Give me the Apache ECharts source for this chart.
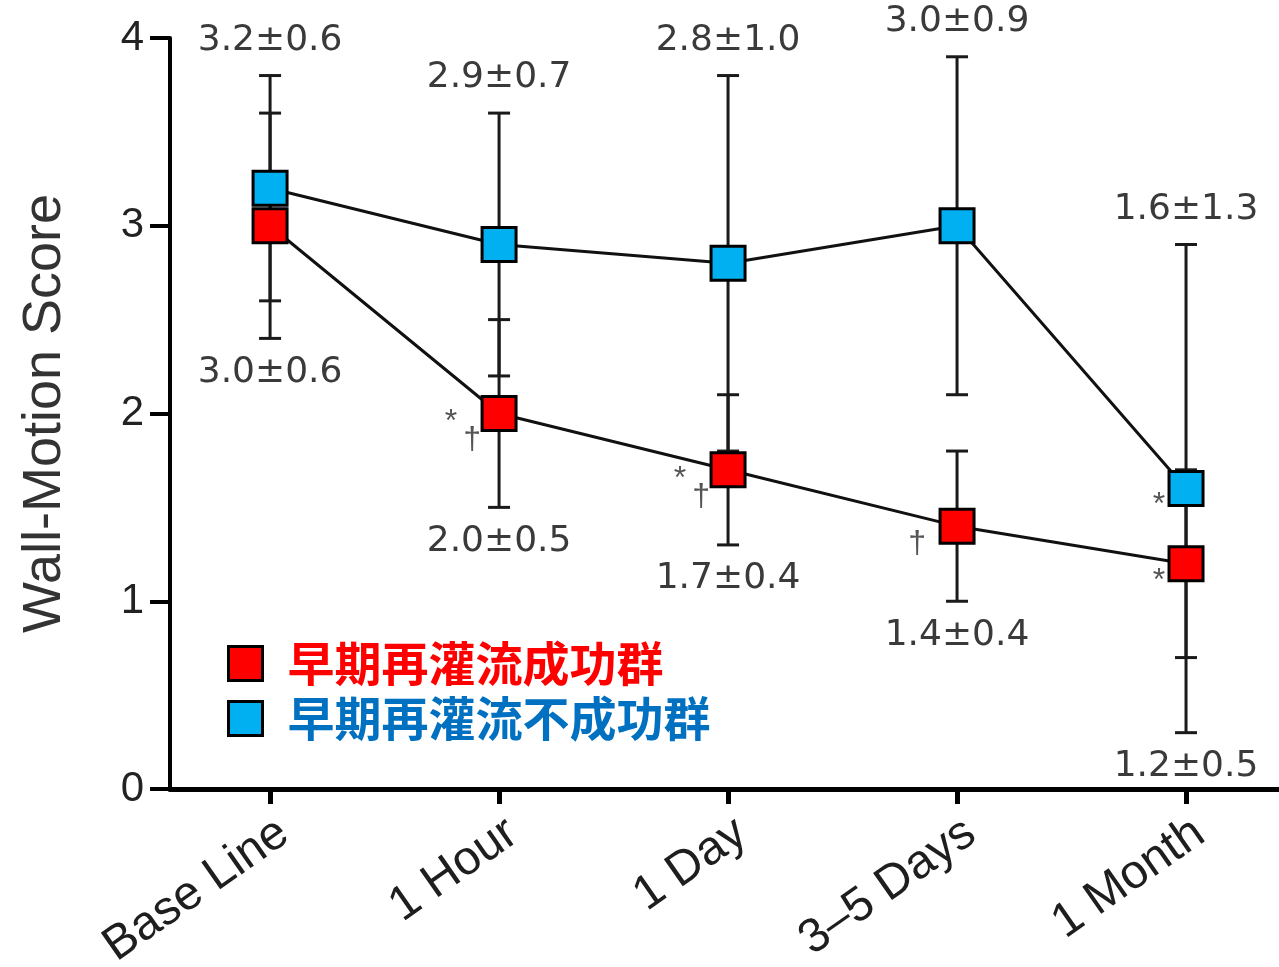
<!DOCTYPE html>
<html>
<head>
<meta charset="utf-8">
<script src="https://cdn.jsdelivr.net/npm/echarts@6/dist/echarts.min.js"></script>
<style>
  html, body { margin: 0; padding: 0; background: #fff; }
  #chart { width: 1279px; height: 967px; }
</style>
</head>
<body>
<div id="chart"></div>
<script>
// categories and values
var categories = ['Base Line', '1 Hour', '1 Day', '3–5 Days', '1 Month'];
var successMean = [3.0, 2.0, 1.7, 1.4, 1.2];
var successSD = [0.6, 0.5, 0.4, 0.4, 0.5];
var failMean = [3.2, 2.9, 2.8, 3.0, 1.6];
var failSD = [0.6, 0.7, 1.0, 0.9, 1.3];
var successMarks = ['', '*†', '*†', '†', '*'];
var failMarks = ['', '', '', '', '*'];
var xTicks = [0, 1, 2, 3, 4];
var yTicks = [0, 1, 2, 3, 4];

var successName = '早期再灌流成功群';
var failName = '早期再灌流不成功群';

var labelFont = '36px "DejaVu Sans", sans-serif';
var markFont = '32px "Liberation Sans", Arial, sans-serif';

function fmt(m, s) {
  return m.toFixed(1) + '±' + s.toFixed(1);
}

function markTexts(mark, cx, cy) {
  var out = [];
  var st = { font: markFont, fill: '#555', align: 'center', verticalAlign: 'middle' };
  if (mark === '*†') {
    out.push({ type: 'text', style: Object.assign({ text: '*', x: cx - 48, y: cy + 9 }, st) });
    out.push({ type: 'text', style: Object.assign({ text: '†', x: cx - 27, y: cy + 27 }, st) });
  } else if (mark === '*') {
    out.push({ type: 'text', style: Object.assign({ text: '*', x: cx - 27, y: cy + 17 }, st) });
  } else if (mark === '†') {
    out.push({ type: 'text', style: Object.assign({ text: '†', x: cx - 40, y: cy + 18 }, st) });
  }
  return out;
}

function renderErrors(params, api) {
  var i = api.value(0);
  var children = [];
  var sets = [
    { mean: failMean[i], sd: failSD[i] },
    { mean: successMean[i], sd: successSD[i] }
  ];
  var capHalf = 11;
  sets.forEach(function (s) {
    var top = api.coord([i, s.mean + s.sd]);
    var bot = api.coord([i, s.mean - s.sd]);
    var ls = { stroke: '#1a1a1a', lineWidth: 3 };
    children.push({ type: 'line', shape: { x1: top[0], y1: top[1], x2: bot[0], y2: bot[1] }, style: ls });
    children.push({ type: 'line', shape: { x1: top[0] - capHalf, y1: top[1], x2: top[0] + capHalf, y2: top[1] }, style: ls });
    children.push({ type: 'line', shape: { x1: bot[0] - capHalf, y1: bot[1], x2: bot[0] + capHalf, y2: bot[1] }, style: ls });
  });

  var upper = Math.max(failMean[i] + failSD[i], successMean[i] + successSD[i]);
  var lower = Math.min(failMean[i] - failSD[i], successMean[i] - successSD[i]);
  var pu = api.coord([i, upper]);
  var pl = api.coord([i, lower]);
  var tStyle = { font: labelFont, fill: '#3a3a3a', align: 'center', verticalAlign: 'middle' };
  children.push({ type: 'text', style: Object.assign({ text: fmt(failMean[i], failSD[i]), x: pu[0], y: pu[1] - 35 }, tStyle) });
  children.push({ type: 'text', style: Object.assign({ text: fmt(successMean[i], successSD[i]), x: pl[0], y: pl[1] + 34 }, tStyle) });

  var pf = api.coord([i, failMean[i]]);
  var ps = api.coord([i, successMean[i]]);
  children = children.concat(markTexts(failMarks[i], pf[0], pf[1]));
  children = children.concat(markTexts(successMarks[i], ps[0], ps[1]));

  return { type: 'group', children: children };
}

function pairs(arr) {
  return arr.map(function (v, i) { return [i, v]; });
}

var chart = echarts.init(document.getElementById('chart'));
var option = {
  backgroundColor: '#ffffff',
  animation: false,
  grid: { left: 170, top: 38, right: 0, bottom: 178, outerBoundsMode: 'none', containLabel: false },
  legend: {
    orient: 'vertical',
    left: 222,
    top: 635,
    icon: 'rect',
    itemWidth: 34,
    itemHeight: 34,
    itemGap: 8,
    textStyle: {
      fontSize: 47,
      lineHeight: 40,
      fontWeight: 'bold',
      fontFamily: '"Noto Sans CJK JP", sans-serif',
      padding: [0, 0, 0, 20]
    },
    data: [
      { name: successName, textStyle: { color: '#ff0000' }, itemStyle: { borderColor: '#000', borderWidth: 3 } },
      { name: failName, textStyle: { color: '#0070c0' }, itemStyle: { borderColor: '#000', borderWidth: 3 } }
    ]
  },
  xAxis: {
    type: 'value',
    min: -0.437,
    max: 4.406,
    splitLine: { show: false },
    axisLine: { show: true, lineStyle: { color: '#000', width: 5 } },
    axisTick: { show: true, customValues: xTicks, length: 15, lineStyle: { color: '#000', width: 5 } },
    axisLabel: {
      customValues: xTicks,
      formatter: function (v) { return categories[Math.round(v)]; },
      rotate: 35,
      verticalAlign: 'top',
      margin: 20,
      fontSize: 48,
      color: '#1e1e1e',
      fontFamily: '"Liberation Sans", Arial, sans-serif'
    }
  },
  yAxis: {
    type: 'value',
    min: yTicks[0],
    max: yTicks[yTicks.length - 1],
    interval: 1,
    name: 'Wall-Motion Score',
    nameLocation: 'middle',
    nameRotate: 90,
    nameGap: 98,
    nameTextStyle: {
      fontSize: 54,
      color: '#333',
      fontFamily: '"Liberation Sans", Arial, sans-serif'
    },
    splitLine: { show: false },
    axisLine: { show: true, onZero: false, lineStyle: { color: '#000', width: 4 } },
    axisTick: { show: true, length: 20, lineStyle: { color: '#000', width: 4 } },
    axisLabel: {
      margin: 26,
      fontSize: 42,
      color: '#222',
      fontFamily: '"Liberation Sans", Arial, sans-serif'
    }
  },
  series: [
    {
      type: 'custom',
      name: 'errors',
      clip: false,
      z: 1,
      renderItem: renderErrors,
      encode: { x: 0, y: 1 },
      data: pairs(successMean)
    },
    {
      type: 'line',
      name: failName,
      z: 3,
      data: pairs(failMean),
      symbol: 'rect',
      symbolSize: 34,
      lineStyle: { color: '#111', width: 3 },
      itemStyle: { color: '#00b0f0', borderColor: '#000', borderWidth: 3 }
    },
    {
      type: 'line',
      name: successName,
      z: 3,
      data: pairs(successMean),
      symbol: 'rect',
      symbolSize: 34,
      lineStyle: { color: '#111', width: 3 },
      itemStyle: { color: '#ff0000', borderColor: '#000', borderWidth: 3 }
    }
  ]
};
chart.setOption(option);
</script>
</body>
</html>
